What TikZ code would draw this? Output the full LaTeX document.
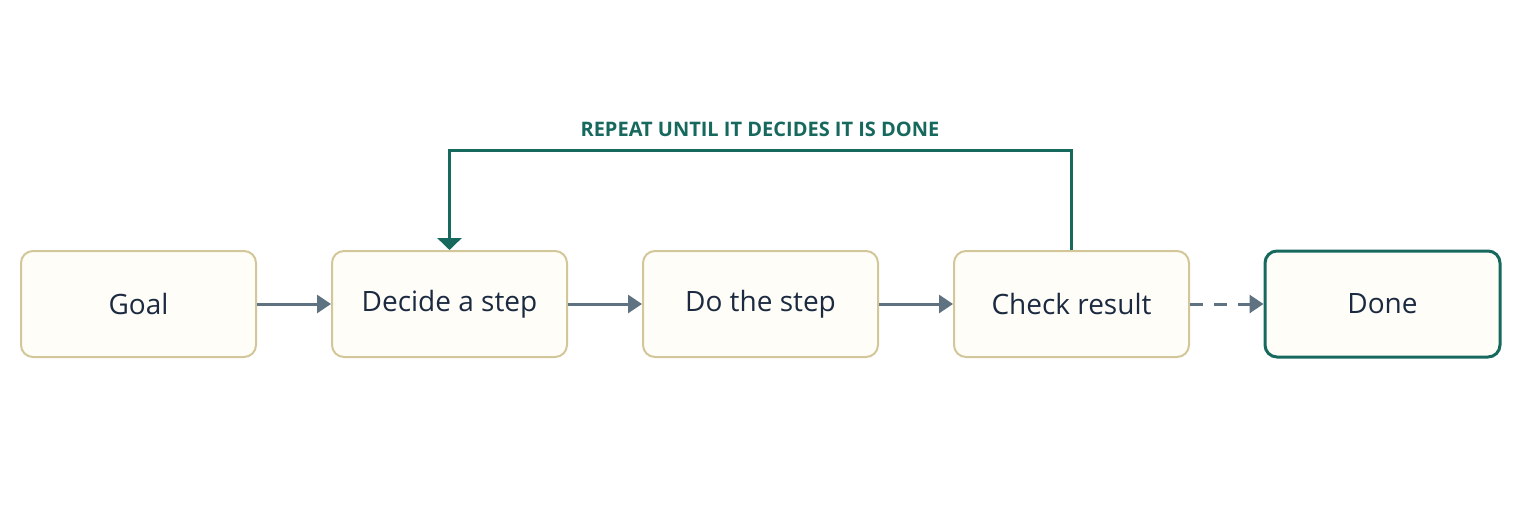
\documentclass[tikz,border=0pt]{standalone}
\usepackage{fontspec}
\setmainfont{Open Sans}
\usetikzlibrary{arrows.meta}
\definecolor{boxfill}{HTML}{FFFDF7}
\definecolor{boxline}{HTML}{D3C79A}
\definecolor{txt}{HTML}{1B2A40}
\definecolor{arr}{HTML}{5F7282}
\definecolor{teal}{HTML}{17695E}
\begin{document}
\begin{tikzpicture}[x=1pt,y=1pt,
  box/.style={draw=boxline,line width=2pt,fill=boxfill,rounded corners=12pt,minimum width=235pt,minimum height=106pt,inner sep=0pt,font=\fontsize{28}{32}\selectfont,text=txt},
  done/.style={box,draw=teal,line width=3pt},
  flow/.style={draw=arr,line width=3pt,-{Triangle[length=14pt,width=18pt]}},
  loop/.style={draw=teal,line width=3pt,-{Triangle[length=12pt,width=24pt]}}]
\useasboundingbox[fill=white] (0,0) rectangle (1520,-520);
\node[box] (goal) at (138.5,-304) {Goal};
\node[box] (dec) at (449.5,-304) {Decide a step};
\node[box] (do) at (760.5,-304) {Do the step};
\node[box] (chk) at (1071.5,-304) {Check result};
\node[done] (done) at (1382.5,-304) {Done};
\draw[flow] (goal) -- (dec);
\draw[flow] (dec) -- (do);
\draw[flow] (do) -- (chk);
\draw[flow,dash pattern=on 13pt off 11pt] (chk) -- (done);
\coordinate (tr) at (1071.5,-150);
\coordinate (tl) at (449.5,-150);
\draw[loop] (chk.north) -- (tr) -- (tl) -- (dec.north);
\node[text=teal,font=\bfseries\fontsize{20}{24}\selectfont] (lbl) at (760,-129) {REPEAT UNTIL IT DECIDES IT IS DONE};
\end{tikzpicture}
\end{document}
